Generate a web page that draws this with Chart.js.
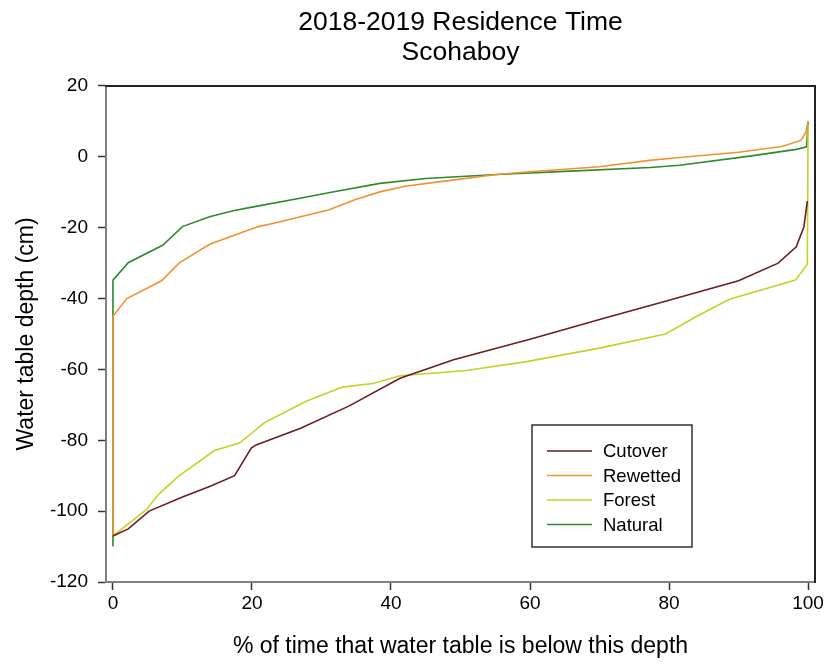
<!DOCTYPE html>
<html>
<head>
<meta charset="utf-8">
<script src="https://cdn.jsdelivr.net/npm/chart.js@4.4.1/dist/chart.umd.min.js"></script>
<style>
  body { margin: 0; background: #fff; }
  #wrap { width: 827px; height: 668px; }
</style>
</head>
<body>
<div id="wrap"><canvas id="chart"></canvas></div>
<script>
// values
var seriesNames = ["Cutover", "Rewetted", "Forest", "Natural"];
var seriesColors = ["#6e1c1f", "#f0922e", "#c6d028", "#2b8a2b"];

var cutoverX = [0, 2.2, 5.2, 10, 14, 17.5, 19.9, 20.6, 27, 34, 41.3, 49, 60, 70, 80, 90, 95.7, 98.3, 99.4, 99.9];
var cutoverY = [-107, -105, -100, -96, -93, -90, -82.2, -81.3, -76.6, -70.3, -62.5, -57.3, -51.5, -45.9, -40.5, -35, -30, -25.4, -19.8, -12.5];

var rewettedX = [0, 0, 2, 7, 9.5, 13.9, 20.9, 23, 27, 31, 35, 38.4, 42, 48, 55.2, 60, 70, 77.2, 81.5, 90, 96.4, 99, 99.7, 100];
var rewettedY = [-107, -45, -40, -35, -30, -24.7, -19.7, -18.8, -16.9, -15, -12, -9.9, -8.3, -6.8, -5, -4.2, -2.8, -1, -0.2, 1.3, 3, 4.7, 7, 10];

var forestX = [0, 4.8, 6.5, 9.4, 14.6, 18.2, 21.8, 27.8, 33, 37.4, 41.3, 50.8, 59.5, 70, 79.5, 84, 88.7, 98.2, 99.9, 100];
var forestY = [-107, -99.6, -95.4, -90.2, -82.9, -80.8, -75, -69, -65, -64, -61.8, -60.3, -57.8, -54, -50, -45, -40.2, -34.8, -30.3, 9];

var naturalX = [0, 0, 2.2, 7.2, 10, 13.9, 17.3, 20, 26.9, 32, 38.4, 45, 55.2, 65, 77.3, 81.5, 91.6, 98.3, 99.8, 100];
var naturalY = [-110, -34.8, -29.9, -24.9, -19.7, -16.9, -15.2, -14.2, -11.7, -9.8, -7.5, -6.1, -5, -4.1, -3, -2.4, 0.2, 2.1, 2.8, 10];

var xTicks = [0, 20, 40, 60, 80, 100];
var yTicks = [-120, -100, -80, -60, -40, -20, 0, 20];

function pairs(xs, ys) {
    return xs.map(function (x, i) { return { x: x, y: ys[i] }; });
}

var allX = [cutoverX, rewettedX, forestX, naturalX];
var allY = [cutoverY, rewettedY, forestY, naturalY];

var datasets = seriesNames.map(function (name, i) {
    return {
        label: name,
        data: pairs(allX[i], allY[i]),
        borderColor: seriesColors[i],
        backgroundColor: seriesColors[i],
        borderWidth: 1.6,
        pointRadius: 0,
        tension: 0,
        fill: false
    };
});

var FONT = "'Liberation Sans', Arial, sans-serif";

// black frame on top and right, like the original plot box
var framePlugin = {
    id: 'frame',
    afterDatasetsDraw: function (chart) {
        var a = chart.chartArea, ctx = chart.ctx;
        ctx.save();
        ctx.strokeStyle = '#222';
        ctx.lineWidth = 2;
        ctx.beginPath();
        ctx.moveTo(a.left - 1, a.top);
        ctx.lineTo(a.right, a.top);
        ctx.lineTo(a.right, a.bottom + 1);
        ctx.stroke();
        ctx.restore();
    }
};

// boxed legend inside the plot, lower right
var boxLegend = {
    id: 'boxLegend',
    afterDraw: function (chart) {
        var ctx = chart.ctx;
        var x = 532, y = 425, w = 160, h = 122;
        ctx.save();
        ctx.fillStyle = '#fff';
        ctx.fillRect(x, y, w, h);
        ctx.strokeStyle = '#333';
        ctx.lineWidth = 1.5;
        ctx.strokeRect(x, y, w, h);
        ctx.font = '18.5px ' + FONT;
        ctx.textBaseline = 'middle';
        chart.data.datasets.forEach(function (ds, i) {
            var ly = 451 + i * 24.5;
            ctx.strokeStyle = ds.borderColor;
            ctx.lineWidth = 1.6;
            ctx.beginPath();
            ctx.moveTo(547, ly);
            ctx.lineTo(592, ly);
            ctx.stroke();
            ctx.fillStyle = '#000';
            ctx.fillText(ds.label, 603, ly + 1);
        });
        ctx.restore();
    }
};

new Chart('chart', {
    type: 'line',
    data: { datasets: datasets },
    options: {
        responsive: true,
        maintainAspectRatio: false,
        animation: false,
        layout: { padding: { left: 0, right: 12, top: 0, bottom: 0 } },
        plugins: {
            legend: { display: false },
            tooltip: { enabled: false },
            title: {
                display: true,
                fullSize: false,
                text: ['2018-2019 Residence Time', 'Scohaboy'],
                color: '#000',
                font: { family: FONT, size: 26.5, weight: 'normal', lineHeight: 1.15 },
                padding: { top: 7, bottom: 18 }
            }
        },
        scales: {
            x: {
                type: 'linear',
                min: -1,
                max: 101,
                afterBuildTicks: function (s) { s.ticks = xTicks.map(function (v) { return { value: v }; }); },
                afterFit: function (s) { s.height = 86; },
                grid: { drawOnChartArea: false, drawTicks: true, tickLength: 8, tickColor: '#333', tickWidth: 1.5 },
                border: { color: '#808080', width: 2 },
                ticks: { color: '#000', padding: 2, maxRotation: 0, font: { family: FONT, size: 19 } },
                title: {
                    display: true,
                    text: '% of time that water table is below this depth',
                    color: '#000',
                    font: { family: FONT, size: 23, lineHeight: 1.2 },
                    padding: { top: 0, bottom: 8 }
                }
            },
            y: {
                type: 'linear',
                min: -120,
                max: 20,
                afterBuildTicks: function (s) { s.ticks = yTicks.map(function (v) { return { value: v }; }); },
                afterFit: function (s) { s.width = 106; },
                grid: { drawOnChartArea: false, drawTicks: true, tickLength: 8, tickColor: '#333', tickWidth: 1.5 },
                border: { color: '#808080', width: 2 },
                ticks: { color: '#000', padding: 10, font: { family: FONT, size: 19 } },
                title: {
                    display: true,
                    text: 'Water table depth (cm)',
                    color: '#000',
                    font: { family: FONT, size: 23, lineHeight: 1.2 },
                    padding: { top: 13, bottom: 0 }
                }
            }
        }
    },
    plugins: [framePlugin, boxLegend]
});
</script>
</body>
</html>
